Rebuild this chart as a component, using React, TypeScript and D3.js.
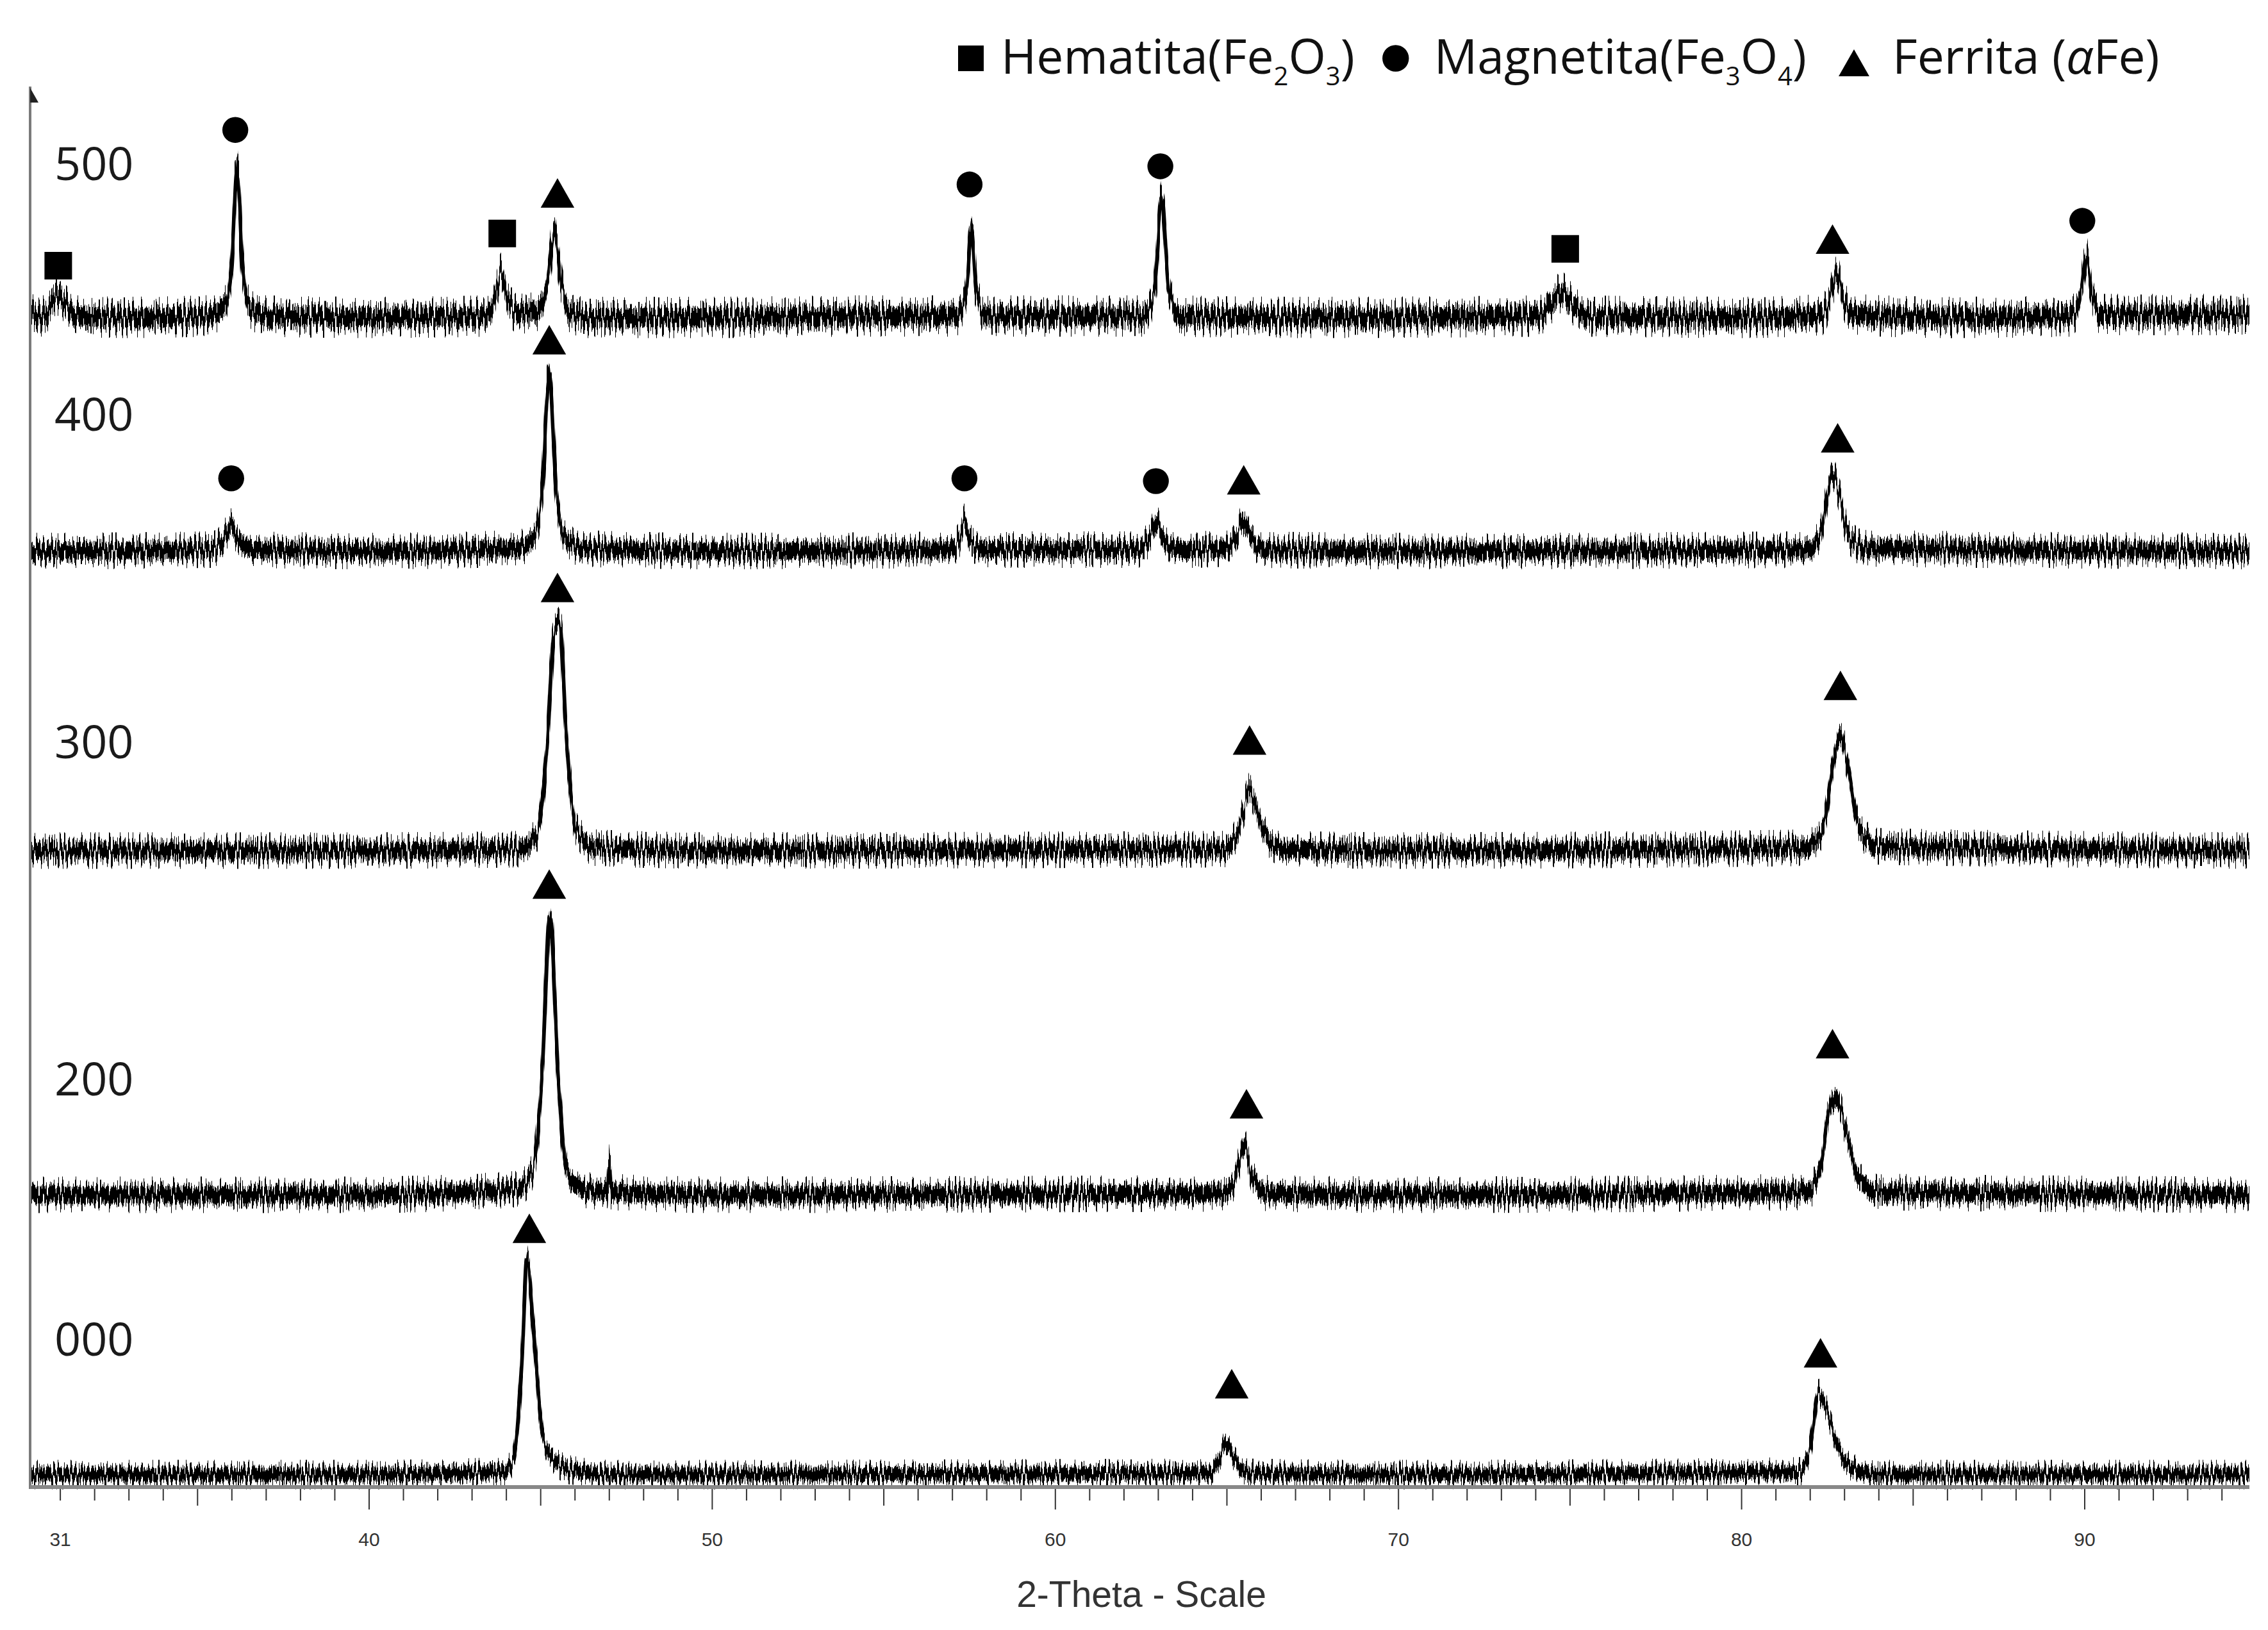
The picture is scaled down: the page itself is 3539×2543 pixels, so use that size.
import React, { useEffect, useRef } from "react";
import * as d3 from "d3";

// ---------------- DATA ----------------
const SAMPLE_LABELS = ["500", "400", "300", "200", "000"];
// baseline (stacking offset) of every pattern, arbitrary units
const BASELINES = [835, 668, 454, 208, 8];

// [2-theta, intensity above the pattern's baseline]
const PROFILE_500: [number, number][] = [
  [30.12, 2], [30.5, 1], [30.75, 10], [30.95, 16], [31.15, 9], [31.5, 1], [33, 0], [35.2, 1],
  [35.8, 8], [36.0, 40], [36.15, 108], [36.3, 40], [36.5, 8], [37, 1], [40, 0], [43.4, 1],
  [43.65, 12], [43.85, 32], [44.05, 12], [44.35, 3], [44.9, 5], [45.2, 25], [45.4, 61],
  [45.6, 25], [45.85, 4], [46.4, 0], [50, 0], [54, 1], [57.1, 1], [57.4, 18], [57.55, 64],
  [57.7, 18], [58.0, 1], [62.6, 1], [62.9, 22], [63.1, 86], [63.3, 22], [63.6, 1], [67, 0],
  [74.1, 1], [74.45, 10], [74.75, 18], [75.05, 10], [75.5, 1], [80, 0], [82.35, 2], [82.6, 16],
  [82.78, 32], [82.95, 14], [83.3, 2], [86, 0], [89.6, 1], [89.9, 18], [90.05, 44], [90.2, 18],
  [90.5, 2], [94.8, 2],
];
const PROFILE_400: [number, number][] = [
  [30.12, 0], [35.4, 1], [35.75, 8], [35.98, 18], [36.2, 8], [36.6, 1], [40, 0], [44.3, 2],
  [44.8, 10], [45.05, 45], [45.25, 127], [45.45, 45], [45.7, 10], [46.2, 2], [50, 0], [56.9, 1],
  [57.2, 8], [57.35, 21], [57.5, 8], [57.9, 1], [62.4, 1], [62.75, 10], [62.93, 20], [63.15, 9],
  [63.5, 1], [65.0, 2], [65.3, 12], [65.47, 22], [65.7, 10], [66.1, 1], [70, 0], [81.9, 1],
  [82.3, 12], [82.5, 40], [82.65, 55], [82.85, 40], [83.1, 12], [83.6, 2], [94.8, 0],
];
const PROFILE_300: [number, number][] = [
  [30.12, 0], [40, 0], [44.4, 1], [44.9, 12], [45.2, 80], [45.4, 158], [45.55, 164], [45.75, 80],
  [46.05, 14], [46.6, 2], [50, 0], [64.9, 1], [65.3, 12], [65.55, 35], [65.66, 45], [65.8, 35],
  [66.1, 12], [66.6, 1], [70, 0], [81.9, 2], [82.4, 18], [82.65, 60], [82.88, 82], [83.1, 60],
  [83.4, 18], [84.0, 3], [94.8, 0],
];
const PROFILE_200: [number, number][] = [
  [30.12, 0], [40, 0], [44.3, 4], [44.75, 16], [45.05, 90], [45.27, 200], [45.5, 90], [45.75, 18],
  [46.2, 4], [46.95, 2], [47.0, 24], [47.05, 2], [50, 0],
  [64.9, 1], [65.25, 12], [65.5, 35], [65.75, 12], [66.2, 1], [70, 0], [81.9, 2], [82.3, 20],
  [82.55, 60], [82.75, 70], [83.0, 50], [83.35, 16], [83.9, 2], [94.8, 0],
];
const PROFILE_000: [number, number][] = [
  [30.12, 0], [40, 0], [43.9, 2], [44.2, 10], [44.45, 80], [44.6, 154], [44.8, 100], [45.05, 30],
  [45.4, 10], [45.9, 3], [47, 0], [64.5, 1], [64.8, 12], [64.97, 22], [65.25, 10], [65.6, 1],
  [70, 0], [81.7, 2], [82.0, 20], [82.25, 58], [82.5, 45], [82.8, 20], [83.3, 4], [84, 0],
  [94.8, 0],
];
const PROFILES = [PROFILE_500, PROFILE_400, PROFILE_300, PROFILE_200, PROFILE_000];

// phase markers: [phase, 2-theta, level above the pattern's baseline]
type Phase = "H" | "M" | "F";
const MARKS_500: [Phase, number, number][] = [
  ["H", 30.94, 37], ["M", 36.1, 134], ["H", 43.88, 60], ["F", 45.49, 89], ["M", 57.5, 95],
  ["M", 63.06, 108], ["H", 74.86, 49], ["F", 82.65, 56], ["M", 89.93, 69],
];
const MARKS_400: [Phase, number, number][] = [
  ["M", 35.98, 52], ["F", 45.25, 151], ["M", 57.35, 52], ["M", 62.93, 50], ["F", 65.49, 51],
  ["F", 82.8, 81],
];
const MARKS_300: [Phase, number, number][] = [["F", 45.49, 188], ["F", 65.66, 79], ["F", 82.88, 118]];
const MARKS_200: [Phase, number, number][] = [["F", 45.25, 222], ["F", 65.57, 65], ["F", 82.65, 108]];
const MARKS_000: [Phase, number, number][] = [["F", 44.67, 176], ["F", 65.14, 65], ["F", 82.3, 87]];
const MARKS = [MARKS_500, MARKS_400, MARKS_300, MARKS_200, MARKS_000];

const X_TICK_LABELS = [31, 40, 50, 60, 70, 80, 90];
const X_TICKS = d3.range(31, 95);
const X_TITLE = "2-Theta - Scale";

const LEGEND_ITEMS: { phase: Phase; parts: [string, boolean][] }[] = [
  { phase: "H", parts: [["Hematita(Fe", false], ["2", true], ["O", false], ["3", true], [")", false]] },
  { phase: "M", parts: [["Magnetita(Fe", false], ["3", true], ["O", false], ["4", true], [")", false]] },
  { phase: "F", parts: [["Ferrita (", false], ["α", false], ["Fe)", false]] },
];

// ---------------- LAYOUT ----------------
const W = 3539;
const H = 2543;
const PLOT = { left: 47, right: 3510, top: 135, bottom: 2318 };
const X_DOMAIN: [number, number] = [30.12, 94.8];
const Y_DOMAIN: [number, number] = [0, 1000];
const LABEL_LEVELS = [933, 754, 520, 279, 93]; // label baselines, a.u.
const NOISE_HALF = [7, 6.2, 6.2, 6.2, 5]; // half-thickness of noise band, a.u.
const NOISE_JITTER = [34, 30, 30, 30, 24]; // px, texture amplitude
const SANS = "'Open Sans', 'Noto Sans', 'DejaVu Sans', sans-serif";
const ARIAL = "'Liberation Sans', Arial, sans-serif";

function markerPath(phase: Phase, cx: number, cy: number, s: number): string {
  if (phase === "H") {
    const h = s / 2;
    return `M${cx - h},${cy - h}H${cx + h}V${cy + h}H${cx - h}Z`;
  }
  if (phase === "M") {
    const r = s * 0.47;
    return `M${cx - r},${cy}A${r},${r} 0 1,0 ${cx + r},${cy}A${r},${r} 0 1,0 ${cx - r},${cy}Z`;
  }
  const b = s * 0.57;
  const hh = s * 0.5;
  return `M${cx},${cy - hh}L${cx + b},${cy + hh}L${cx - b},${cy + hh}Z`;
}

export default function App() {
  const legendRef = useRef<SVGGElement>(null);
  const x = d3.scaleLinear().domain(X_DOMAIN).range([PLOT.left, PLOT.right]);
  const y = d3.scaleLinear().domain(Y_DOMAIN).range([PLOT.bottom, PLOT.top]);

  useEffect(() => {
    document.body.style.margin = "0";
    document.body.style.overflow = "hidden";
    const g = d3.select(legendRef.current);
    g.selectAll("*").remove();
    const baseY = 115;
    let center = 1515;
    LEGEND_ITEMS.forEach((item, k) => {
      const ms = item.phase === "F" ? 42 : item.phase === "M" ? 44 : 40;
      g.append("path")
        .attr("d", markerPath(item.phase, center, item.phase === "F" ? 98 : 91, ms))
        .attr("fill", "#000");
      const tx = center + (item.phase === "H" ? 47 : 60);
      const t = g
        .append("text")
        .attr("x", tx)
        .attr("y", baseY)
        .attr("font-family", SANS)
        .attr("font-size", 75)
        .attr("fill", "#111");
      let shift = 0;
      item.parts.forEach(([s, sub]) => {
        const target = sub ? 18 : 0;
        t.append("tspan")
          .attr("dy", target - shift)
          .attr("font-size", sub ? 40 : 75)
          .attr("font-style", s === "α" ? "italic" : null)
          .text(s);
        shift = target;
      });
      const w = (t.node() as SVGTextElement).getComputedTextLength();
      const next = LEGEND_ITEMS[k + 1];
      center = tx + w + (next && next.phase === "F" ? 74 : 64);
    });
  }, []);

  const area = (i: number) =>
    d3
      .area<[number, number]>()
      .x((d) => x(d[0]))
      .y0((d) => y(BASELINES[i] + d[1] - NOISE_HALF[i]))
      .y1((d) => y(BASELINES[i] + d[1] + NOISE_HALF[i]))
      .curve(d3.curveMonotoneX)(PROFILES[i]) || "";
  const line = (i: number) =>
    d3
      .line<[number, number]>()
      .x((d) => x(d[0]))
      .y((d) => y(BASELINES[i] + d[1]))
      .curve(d3.curveMonotoneX)(PROFILES[i]) || "";

  const axisY = PLOT.bottom + 2;

  return (
    <svg width={W} height={H} viewBox={`0 0 ${W} ${H}`} style={{ display: "block", background: "#fff" }}>
      <defs>
        {PROFILES.map((_, i) => (
          <filter
            key={i}
            id={`jag${i}`}
            filterUnits="userSpaceOnUse"
            x={0}
            y={0}
            width={W}
            height={H}
            colorInterpolationFilters="sRGB"
          >
            <feTurbulence type="fractalNoise" baseFrequency="0.3 0" numOctaves={3} seed={i * 11 + 4} result="noise" />
            <feComponentTransfer in="noise" result="disp">
              <feFuncR type="linear" slope={0} intercept={0.5} />
              <feFuncG type="linear" slope={2.6} intercept={-0.8} />
              <feFuncA type="linear" slope={0} intercept={1} />
            </feComponentTransfer>
            <feDisplacementMap
              in="SourceGraphic"
              in2="disp"
              scale={NOISE_JITTER[i]}
              xChannelSelector="R"
              yChannelSelector="G"
            />
          </filter>
        ))}
      </defs>

      {/* patterns */}
      {PROFILES.map((_, i) => (
        <g key={i} filter={`url(#jag${i})`}>
          <path d={area(i)} fill="#000" />
          <path d={line(i)} fill="none" stroke="#000" strokeWidth={6} strokeLinejoin="round" />
        </g>
      ))}

      {/* phase markers */}
      {MARKS.map((list, i) =>
        list.map(([ph, t, lv], j) => (
          <path
            key={`${i}-${j}`}
            d={markerPath(ph, x(t), y(BASELINES[i] + lv), ph === "F" ? 46 : 43)}
            fill="#000"
          />
        ))
      )}

      {/* sample labels */}
      {SAMPLE_LABELS.map((s, i) => (
        <text key={s} x={85} y={y(LABEL_LEVELS[i])} fontFamily={SANS} fontSize={72} fill="#1a1a1a">
          {s}
        </text>
      ))}

      {/* axes */}
      <line x1={PLOT.left} x2={PLOT.left} y1={PLOT.top} y2={axisY + 3} stroke="#7a7a7a" strokeWidth={4} />
      <path d={`M${PLOT.left},${PLOT.top + 2}L${PLOT.left},${PLOT.top + 25}L${PLOT.left + 13},${PLOT.top + 25}Z`} fill="#222" />
      <line x1={PLOT.left} x2={PLOT.right} y1={axisY} y2={axisY} stroke="#888" strokeWidth={6} />
      {X_TICKS.map((t) => {
        const len = t % 10 === 0 ? 32 : t % 5 === 0 ? 26 : 18;
        return (
          <line key={t} x1={x(t)} x2={x(t)} y1={axisY + 3} y2={axisY + 3 + len} stroke="#333" strokeWidth={2} />
        );
      })}
      {X_TICK_LABELS.map((t) => (
        <text key={t} x={x(t)} y={2412} textAnchor="middle" fontFamily={ARIAL} fontSize={30} fill="#333">
          {t}
        </text>
      ))}
      <text x={1781} y={2507} textAnchor="middle" fontFamily={ARIAL} fontSize={57} fill="#333">
        {X_TITLE}
      </text>

      <g ref={legendRef} />
    </svg>
  );
}
